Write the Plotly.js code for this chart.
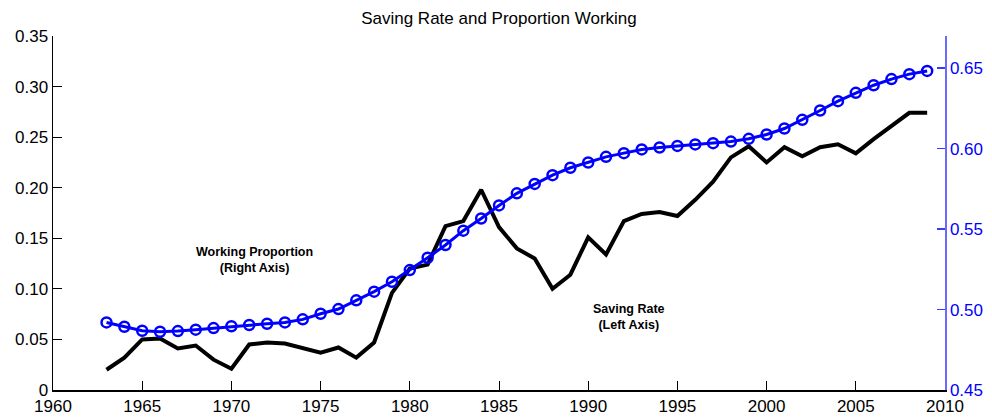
<!DOCTYPE html>
<html>
<head>
<meta charset="utf-8">
<script src="https://cdn.plot.ly/plotly-3.0.1.min.js"></script>
<style>html,body{margin:0;padding:0;background:#fff;}#chart{width:992px;height:419px;}</style>
</head>
<body>
<div id="chart"></div>
<script>
const years = [1963,1964,1965,1966,1967,1968,1969,1970,1971,1972,1973,1974,1975,1976,1977,1978,1979,1980,1981,1982,1983,1984,1985,1986,1987,1988,1989,1990,1991,1992,1993,1994,1995,1996,1997,1998,1999,2000,2001,2002,2003,2004,2005,2006,2007,2008,2009];
const savingRate = [0.020,0.032,0.050,0.051,0.041,0.044,0.030,0.021,0.045,0.047,0.046,0.042,0.037,0.042,0.032,0.047,0.096,0.120,0.124,0.162,0.167,0.198,0.161,0.140,0.130,0.100,0.114,0.151,0.134,0.167,0.174,0.176,0.172,0.188,0.206,0.230,0.241,0.225,0.240,0.231,0.240,0.243,0.234,0.248,0.261,0.274,0.274];
const workingProp = [0.4920,0.4893,0.4868,0.4862,0.4866,0.4875,0.4885,0.4896,0.4904,0.4912,0.4920,0.4939,0.4974,0.5003,0.5057,0.5111,0.5173,0.5245,0.5322,0.5401,0.5490,0.5566,0.5647,0.5722,0.5781,0.5835,0.5881,0.5914,0.5949,0.5972,0.5995,0.6007,0.6017,0.6026,0.6034,0.6044,0.6061,0.6088,0.6125,0.6179,0.6237,0.6295,0.6347,0.6394,0.6432,0.6463,0.6483];
const xTicks = [1960,1965,1970,1975,1980,1985,1990,1995,2000,2005,2010];
const leftTickVals = [0,0.05,0.10,0.15,0.20,0.25,0.30,0.35];
const leftTickText = ["0","0.05","0.10","0.15","0.20","0.25","0.30","0.35"];
const rightTickVals = [0.45,0.50,0.55,0.60,0.65];
const rightTickText = ["0.45","0.50","0.55","0.60","0.65"];

const traces = [
  {x: years, y: savingRate, type: 'scatter', mode: 'lines', yaxis: 'y',
   line: {color: '#000000', width: 4}, name: 'Saving Rate', cliponaxis: false},
  {x: years, y: workingProp, type: 'scatter', mode: 'lines+markers', yaxis: 'y2',
   line: {color: '#0000ff', width: 3},
   marker: {symbol: 'circle-open', size: 10, color: '#0000ff', line: {width: 2.5, color: '#0000ff'}},
   name: 'Working Proportion', cliponaxis: false}
];

const font = 'Liberation Sans, Arial, Helvetica, sans-serif';
const layout = {
  width: 992, height: 419,
  margin: {l: 53, r: 47, t: 36, b: 29, pad: 0},
  paper_bgcolor: '#ffffff', plot_bgcolor: '#ffffff',
  showlegend: false,
  font: {family: font, size: 17, color: '#000'},
  title: {text: 'Saving Rate and Proportion Working', x: 0.503, xanchor: 'center', y: 0.958, yanchor: 'middle', yref: 'container',
          font: {family: font, size: 17, color: '#000'}},
  xaxis: {range: [1960, 2010], tickvals: xTicks, ticktext: xTicks.map(String), showgrid: false, zeroline: false,
          showline: true, linecolor: '#000', linewidth: 1.5, ticks: 'inside', ticklen: 9, tickcolor: '#000', tickwidth: 1,
          tickfont: {family: font, size: 17, color: '#000'}},
  yaxis: {range: [0, 0.35], tickvals: leftTickVals, ticktext: leftTickText, showgrid: false, zeroline: false,
          showline: true, linecolor: '#000', linewidth: 1.5, ticks: 'inside', ticklen: 9, tickcolor: '#000', tickwidth: 1,
          tickfont: {family: font, size: 17, color: '#000'}},
  yaxis2: {range: [0.45, 0.67], overlaying: 'y', side: 'right', tickvals: rightTickVals, ticktext: rightTickText,
           showgrid: false, zeroline: false, showline: true, linecolor: '#6a6aff', linewidth: 1.5,
           ticks: 'inside', ticklen: 8, tickcolor: '#3b3bff', tickwidth: 1.5,
           tickfont: {family: font, size: 17, color: '#0000ff'}},
  annotations: [
    {text: '<b>Working Proportion</b><br><b>(Right Axis)</b>', xref: 'x', yref: 'y', x: 1971.3, y: 0.1285,
     showarrow: false, font: {family: font, size: 12.5, color: '#000'}, align: 'center'},
    {text: '<b>Saving Rate</b><br><b>(Left Axis)</b>', xref: 'x', yref: 'y', x: 1992.3, y: 0.0725,
     showarrow: false, font: {family: font, size: 12.5, color: '#000'}, align: 'center'}
  ]
};

Plotly.newPlot('chart', traces, layout, {displayModeBar: false, staticPlot: true});
</script>
</body>
</html>
